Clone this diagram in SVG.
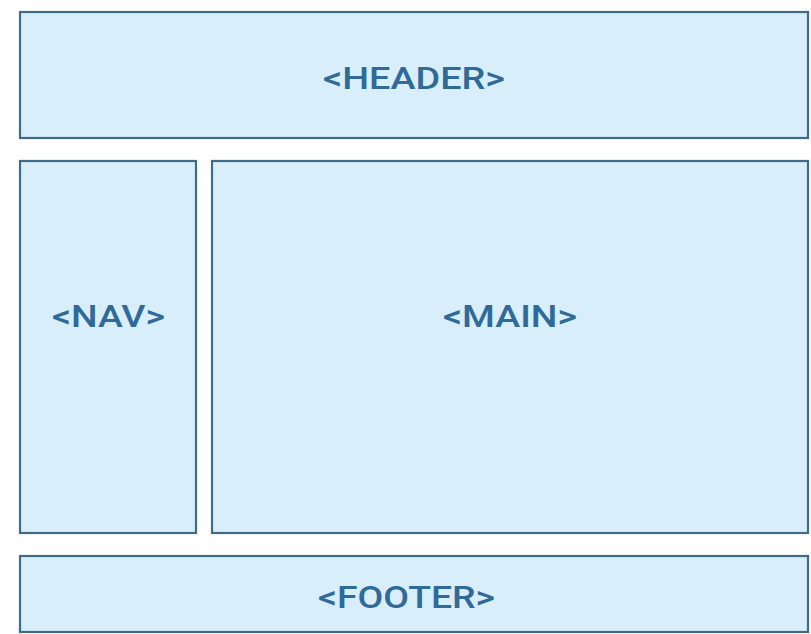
<svg xmlns="http://www.w3.org/2000/svg" width="811" height="634" viewBox="0 0 811 634">
<style>
.box{fill:#d8eefb;stroke:#3f6a88;stroke-width:2.2}
.lbl{font-family:Roboto,"Liberation Sans",sans-serif;font-weight:500;font-size:32px;fill:#2f6a99;text-anchor:middle}
</style>
<rect width="811" height="634" fill="#ffffff"/>
<g id="header">
<rect class="box" x="20" y="12" width="788" height="126"/>
<text class="lbl" x="414" y="89" textLength="182" lengthAdjust="spacingAndGlyphs">&lt;HEADER&gt;</text>
</g>
<g id="nav">
<rect class="box" x="20" y="161" width="176" height="372"/>
<text class="lbl" x="108.5" y="327" textLength="113" lengthAdjust="spacingAndGlyphs">&lt;NAV&gt;</text>
</g>
<g id="main">
<rect class="box" x="212" y="161" width="596" height="372"/>
<text class="lbl" x="510" y="327" textLength="134" lengthAdjust="spacingAndGlyphs">&lt;MAIN&gt;</text>
</g>
<g id="footer">
<rect class="box" x="20" y="556" width="788" height="76"/>
<text class="lbl" x="406.5" y="608" textLength="177" lengthAdjust="spacingAndGlyphs">&lt;FOOTER&gt;</text>
</g>
<g id="connectors"/>
</svg>
